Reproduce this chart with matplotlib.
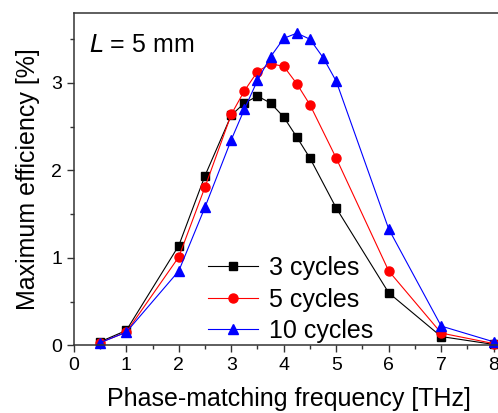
import matplotlib
matplotlib.use('Agg')
import matplotlib.pyplot as plt
from matplotlib.ticker import MultipleLocator

plt.rcParams['font.family'] = ['Liberation Sans', 'DejaVu Sans']

# 3 cycles / 5 cycles share the same frequency points
freq_a = [0.5, 1, 2, 2.5, 3, 3.25, 3.5, 3.75, 4, 4.25, 4.5, 5, 6, 7, 8]
eff_3 = [0.04, 0.17, 1.14, 1.94, 2.63, 2.77, 2.85, 2.77, 2.61, 2.38, 2.14, 1.57, 0.60, 0.10, 0.01]
eff_5 = [0.03, 0.15, 1.01, 1.81, 2.64, 2.91, 3.13, 3.22, 3.19, 2.99, 2.75, 2.14, 0.85, 0.14, 0.02]

# 10 cycles has an extra point at 4.75 THz
freq_b = [0.5, 1, 2, 2.5, 3, 3.25, 3.5, 3.75, 4, 4.25, 4.5, 4.75, 5, 6, 7, 8]
eff_10 = [0.03, 0.15, 0.85, 1.58, 2.35, 2.70, 3.03, 3.30, 3.51, 3.57, 3.50, 3.29, 3.02, 1.33, 0.22, 0.04]

fig = plt.figure(figsize=(4.98, 4.13), dpi=100)
ax = fig.add_axes([0.1482, 0.1639, 0.8642, 0.8046])

ax.plot(freq_a, eff_3, '-s', color='black', lw=0.8, ms=6, label='3 cycles', clip_on=False)
ax.plot(freq_a, eff_5, '-o', color='red', lw=0.8, ms=6.5, label='5 cycles', clip_on=False)
ax.plot(freq_b, eff_10, '-^', color='blue', lw=0.8, ms=7, label='10 cycles', clip_on=False)

ax.set_xlim(0, 8.2)
ax.set_ylim(0, 3.8)
ax.xaxis.set_major_locator(MultipleLocator(1))
ax.xaxis.set_minor_locator(MultipleLocator(0.5))
ax.yaxis.set_major_locator(MultipleLocator(1))
ax.yaxis.set_minor_locator(MultipleLocator(0.5))
ax.tick_params(which='major', direction='out', length=5, width=1, labelsize=14, color='#333333')
ax.tick_params(which='minor', direction='out', length=3, width=1, color='#333333')
ax.spines['right'].set_visible(False)
for s in ['left', 'bottom', 'top']:
    ax.spines[s].set_linewidth(1.1)
    ax.spines[s].set_color('#333333')

ax.set_xlabel('Phase-matching frequency [THz]', fontsize=18, labelpad=9)
ax.set_ylabel('Maximum efficiency [%]', fontsize=18, labelpad=8)

ax.text(0.035, 0.905, '$\\mathit{L}$ = 5 mm', transform=ax.transAxes, fontsize=18,
        va='center', ha='left')

leg = ax.legend(loc='lower left', bbox_to_anchor=(0.28, -0.035), frameon=False, fontsize=18,
                handlelength=2.0, handletextpad=0.45, labelspacing=0.3, borderaxespad=0.15)

fig.savefig('out.png', dpi=100)
